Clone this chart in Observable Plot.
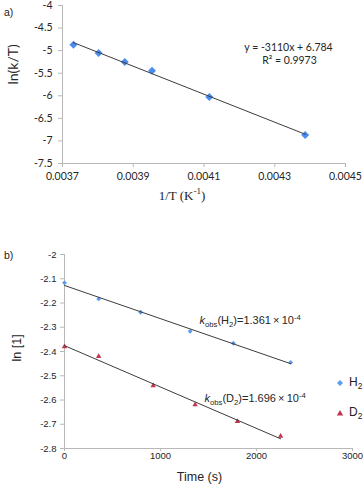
<!DOCTYPE html>
<html>
<head>
<meta charset="utf-8">
<script src="https://cdn.jsdelivr.net/npm/d3@7"></script>
<script src="https://cdn.jsdelivr.net/npm/@observablehq/plot@0.6"></script>
<style>
  html, body { margin: 0; padding: 0; background: #fff; }
  #wrap { position: relative; width: 363px; height: 488px; overflow: hidden; background: #fff; }
  #pa { position: absolute; left: 0; top: 0; }
  #pb { position: absolute; left: 0; top: 245px; }
  .tag { position: absolute; font-family: "Liberation Sans", Arial, sans-serif; font-size: 10.5px; color: #222; }
  .leg { position: absolute; font-family: "Liberation Sans", Arial, sans-serif; font-size: 12px; color: #222; display: flex; align-items: center; }
  .leg svg { margin-right: 5px; }
</style>
</head>
<body>
<div id="wrap">
  <div id="pa"></div>
  <div id="pb"></div>
  <div class="tag" style="left:4px;top:6px;">a)</div>
  <div class="tag" style="left:4px;top:249px;">b)</div>
  <div id="legend"></div>
</div>
<script>
// ---------- Panel a data (Eyring plot) ----------
const invT = [0.003731, 0.003802, 0.003876, 0.003953, 0.004115, 0.004386];
const lnkT = [-4.867, -5.05, -5.252, -5.444, -6.025, -6.87];
const xDomainA = [0.0037, 0.0045];
const yDomainA = [-7.5, -4];
const xTicksA = [0.0037, 0.0039, 0.0041, 0.0043, 0.0045];
const yTicksA = [-4, -4.5, -5, -5.5, -6, -6.5, -7, -7.5];
const eqLabels = ["y = -3110x + 6.784", "R² = 0.9973"];
const xTitleA = "1/T (K^{-1})";
const yTitleA = "ln(k/T)";

// ---------- Panel b data (kinetics, H2 vs D2) ----------
const timeH2 = [0, 356, 793, 1309, 1759, 2356];
const lnH2 = [-2.117, -2.183, -2.238, -2.317, -2.366, -2.445];
const timeD2 = [0, 356, 924, 1361, 1801, 2251];
const lnD2 = [-2.38, -2.42, -2.541, -2.619, -2.688, -2.749];
const xDomainB = [0, 3000];
const yDomainB = [-2.8, -2];
const xTicksB = [0, 1000, 2000, 3000];
const yTicksB = [-2, -2.1, -2.2, -2.3, -2.4, -2.5, -2.6, -2.7, -2.8];
const series = ["H_{2}", "D_{2}"];
const kobsLabels = ["*k*_{obs}(H_{2})=1.361\u2009×\u200910^{-4}", "*k*_{obs}(D_{2})=1.696\u2009×\u200910^{-4}"];
const xTitleB = "Time (s)";
const yTitleB = "ln [1]";

const blueA = "#4a8cf0", blueB = "#5b9cf0", red = "#c2354e";
const axisGray = "#b8b8b8", lineCol = "#3c3c3c", txt = "#262626";
const fmt = d => String(d);

const dataA = invT.map((x, i) => ({x, y: lnkT[i]}));
const dataH = timeH2.map((x, i) => ({x, y: lnH2[i]}));
const dataD = timeD2.map((x, i) => ({x, y: lnD2[i]}));

const plotA = Plot.plot({
  width: 363, height: 210,
  marginLeft: 62, marginRight: 18, marginTop: 5, marginBottom: 47,
  style: {fontFamily: "Lato, sans-serif", fontSize: "10.5px", color: txt, background: "transparent", overflow: "visible"},
  x: {domain: xDomainA},
  y: {domain: yDomainA},
  marks: [
    Plot.ruleX([xDomainA[0]], {stroke: axisGray}),
    Plot.ruleY([yDomainA[0]], {stroke: axisGray}),
    Plot.axisX({ticks: xTicksA, tickFormat: fmt, tickSize: 4, tickPadding: 5, stroke: axisGray, fill: txt, label: null}),
    Plot.axisY({ticks: yTicksA, tickFormat: fmt, tickSize: 4, tickPadding: 6, stroke: axisGray, fill: txt, label: null}),
    Plot.dot(dataA, {x: "x", y: "y", symbol: "diamond2", r: 3.6, fill: blueA}),
    Plot.linearRegressionY(dataA, {x: "x", y: "y", stroke: lineCol, strokeWidth: 1, ci: 0}),
    Plot.text([eqLabels[0]], {frameAnchor: "top-left", dx: 226, dy: 38, textAnchor: "middle", fontSize: 10.5, fill: txt}),
    Plot.text([eqLabels[1]], {frameAnchor: "top-left", dx: 227, dy: 51, textAnchor: "middle", fontSize: 10.5, fill: txt}),
    Plot.text([xTitleA], {frameAnchor: "bottom", dx: -22, dy: 36, fontFamily: "Liberation Serif, serif", fontSize: 13, fill: txt}),
    Plot.text([yTitleA], {frameAnchor: "left", dx: -49, rotate: -90, fontSize: 14, fill: txt})
  ]
});
document.getElementById("pa").appendChild(plotA);

const plotB = Plot.plot({
  width: 363, height: 243,
  marginLeft: 64, marginRight: 11, marginTop: 9, marginBottom: 40,
  style: {fontFamily: "Liberation Sans, Arial, sans-serif", fontSize: "9.5px", color: txt, background: "transparent", overflow: "visible"},
  x: {domain: xDomainB},
  y: {domain: yDomainB},
  marks: [
    Plot.ruleX([xDomainB[0]], {stroke: axisGray}),
    Plot.ruleY([yDomainB[0]], {stroke: axisGray}),
    Plot.axisX({ticks: xTicksB, tickFormat: fmt, tickSize: 3, tickPadding: 1, stroke: axisGray, fill: txt, label: null}),
    Plot.axisY({ticks: yTicksB, tickFormat: fmt, tickSize: 4, tickPadding: 4, stroke: axisGray, fill: txt, label: null}),
    Plot.dot(dataH, {x: "x", y: "y", symbol: "diamond2", r: 2.2, fill: blueB}),
    Plot.dot(dataD, {x: "x", y: "y", symbol: "triangle2", r: 2.6, fill: red}),
    Plot.linearRegressionY(dataH, {x: "x", y: "y", stroke: lineCol, strokeWidth: 1, ci: 0}),
    Plot.linearRegressionY(dataD, {x: "x", y: "y", stroke: lineCol, strokeWidth: 1, ci: 0}),
    Plot.text([kobsLabels[0]], {frameAnchor: "top-left", dx: 135, dy: 62, textAnchor: "start", fontSize: 11, fill: txt}),
    Plot.text([kobsLabels[1]], {frameAnchor: "top-left", dx: 140, dy: 140, textAnchor: "start", fontSize: 11, fill: txt}),
    Plot.text([xTitleB], {frameAnchor: "bottom", dx: -9, dy: 32, fontSize: 12.5, fill: txt}),
    Plot.text([yTitleB], {frameAnchor: "left", dx: -48, dy: 10, rotate: -90, fontSize: 12.5, fill: txt})
  ]
});
document.getElementById("pb").appendChild(plotB);

// Legend for panel b
const legend = document.getElementById("legend");
const symbols = [
  {fill: blueB, path: "M0,-3L3,0L0,3L-3,0Z"},
  {fill: red, path: "M0,-3L3.2,2.6L-3.2,2.6Z"}
];
series.forEach((s, i) => {
  const div = document.createElement("div");
  div.className = "leg";
  div.style.left = "336px";
  div.style.top = (i === 0 ? 375 : 405) + "px";
  div.innerHTML = `<svg width="8" height="8" viewBox="-4 -4 8 8"><path d="${symbols[i].path}" fill="${symbols[i].fill}"/></svg><span class="rt">${s}</span>`;
  legend.appendChild(div);
});
document.querySelectorAll(".rt").forEach(el => {
  el.innerHTML = el.textContent.replace(/_\{([^}]*)\}/g, '<sub style="font-size:70%">$1</sub>');
});

// Rich text (sub/superscripts, italics) in SVG text
const NS = "http://www.w3.org/2000/svg";
function rich(el) {
  const s = el.textContent;
  if (!/[_^]\{|\*/.test(s)) return;
  const base = parseFloat(getComputedStyle(el).fontSize) || 10;
  el.textContent = "";
  const re = /([_^])\{([^}]*)\}|\*([^*]*)\*|([^_^*]+)/g;
  let shift = 0, m;
  while ((m = re.exec(s))) {
    const t = document.createElementNS(NS, "tspan");
    if (m[1]) {
      const target = m[1] === "_" ? 0.28 * base : -0.4 * base;
      t.setAttribute("dy", (target - shift).toFixed(2));
      t.setAttribute("font-size", (0.7 * base).toFixed(2));
      shift = target;
      t.textContent = m[2];
    } else {
      if (shift !== 0) t.setAttribute("dy", (-shift).toFixed(2));
      shift = 0;
      if (m[3] !== undefined) { t.setAttribute("font-style", "italic"); t.textContent = m[3]; }
      else t.textContent = m[4];
    }
    el.appendChild(t);
  }
}
document.querySelectorAll("#wrap svg text").forEach(rich);
</script>
</body>
</html>
